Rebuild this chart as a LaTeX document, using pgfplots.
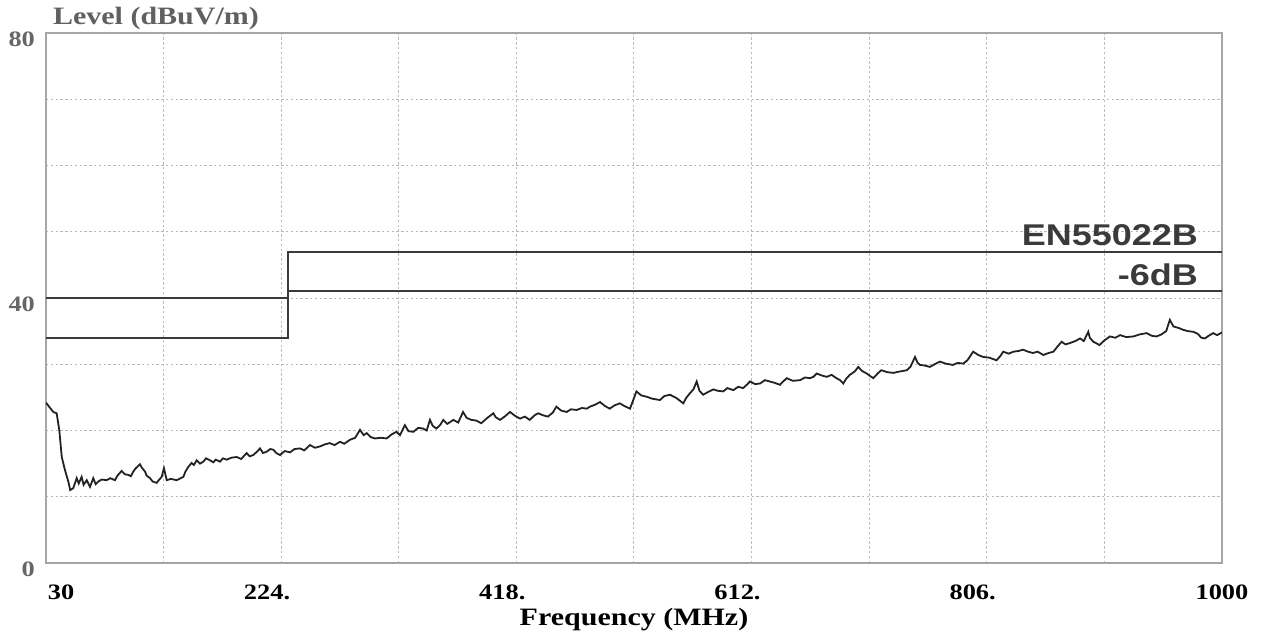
\documentclass[border=0pt]{standalone}
\usepackage{fontspec}
\setmainfont{Liberation Serif}
\newfontfamily\labfont[FakeStretch=1.2]{Liberation Serif}
\newfontfamily\limfont[FakeStretch=1.2]{Liberation Sans}
\usepackage{pgfplots}
\pgfplotsset{compat=1.18}

\definecolor{trace}{HTML}{222222}
\definecolor{limit}{HTML}{3A3A3A}
\definecolor{gridc}{HTML}{BBBBBB}

\begin{document}
\begin{tikzpicture}
\useasboundingbox (-23pt,-35.5pt) rectangle (612.5pt,281.5pt);
\begin{axis}[
    scale only axis, width=588pt, height=265pt,
    xmin=30, xmax=1000, ymin=0, ymax=80,
    xtick={30,127,224,321,418,515,612,709,806,903,1000},
    xticklabels={\rlap{\hspace{1pt}30}\hspace{9pt},,\hspace{9pt}\llap{224.},,\hspace{9pt}\llap{418.},,\hspace{9pt}\llap{612.},,\hspace{9pt}\llap{806.},,1000},
    ytick={0,10,...,80},
    yticklabels={0,,,,40,,,,80},
    major tick length=0pt,
    grid=major,
    major grid style={gridc, dash pattern=on 1.2pt off 1.2pt, line width=0.5pt},
    axis line style={gray!70, line width=0.6pt},
    tick label style={font=\labfont\bfseries\fontsize{11}{13}\selectfont},
    yticklabel style={text=gray!80!black, anchor=east, xshift=-2pt, yshift=-3pt},
    xticklabel style={anchor=north, yshift=-7.5pt},
    xlabel={Frequency (MHz)},
    xlabel style={at={(axis description cs:0.5,0)}, anchor=base, yshift=-31pt,
        font=\labfont\bfseries\fontsize{12.5}{14}\selectfont},
    ylabel={Level (dBuV/m)},
    ylabel style={rotate=-90, at={(axis description cs:0,1)}, anchor=base west,
        xshift=0pt, yshift=4.5pt, text=gray!75!black,
        font=\labfont\bfseries\fontsize{12.5}{14}\selectfont},
]
% limit lines
\addplot[limit, line width=1pt] coordinates {(30,40) (230,40) (230,47) (1000,47)};
\addplot[limit, line width=1pt] coordinates {(30,34) (230,34) (230,41) (1000,41)};

% measured trace
\addplot[trace, line width=0.9pt] coordinates {
(30,24.2) (33,23.5) (36,22.8) (38.8,22.6) (41,20) (43,16) (45.7,14) (48.4,12.3)
(50,11.0) (52.5,11.3) (55.3,12.8) (57,12.0) (59.4,13.0) (61,11.8) (63.6,12.5)
(66.3,11.5) (69,12.8) (71,11.9) (73.1,12.3) (76,12.6) (80,12.5) (83,12.8)
(86.9,12.5) (89,13.2) (92.4,13.9) (95,13.4) (97.9,13.3) (100,13.1) (102,13.8)
(104,14.3) (107.5,14.9) (109,14.4) (111.7,13.8) (113,13.2) (115.8,12.8)
(118,12.3) (121.3,12.1) (123,12.5) (125.4,13.0) (127.3,14.3) (129.6,12.5)
(133,12.7) (137.8,12.5) (140,12.7) (143.3,13.0) (145,13.8) (147.4,14.5)
(150,15.1) (152,14.8) (154.3,15.5) (157,15.0) (159.8,15.3) (162,15.8)
(165.3,15.5) (168,15.2) (170,15.6) (173.5,15.3) (176,15.8) (179,15.6)
(183,15.9) (187.3,16.0) (191,15.7) (195.5,16.6) (198,16.1) (201,16.3)
(204,16.8) (206.5,17.3) (209,16.6) (212,16.8) (215,17.2) (217.5,17.1)
(220,16.6) (223,16.3) (227,16.9) (231.3,16.7) (235,17.2) (239.5,17.3)
(243,17.0) (247.7,17.8) (252,17.4) (256,17.6) (260,17.9) (264,18.1)
(268,17.8) (272.5,18.3) (276,18.0) (280.7,18.6) (285,18.9) (289,20.1)
(292,19.3) (294.5,19.6) (298,19.0) (301.4,18.8) (306,18.9) (311,18.8)
(315,19.4) (319,19.8) (322,19.3) (326,20.8) (329,19.9) (333,19.8) (337,20.4)
(341,20.3) (344,20.0) (346.7,21.6) (349,20.7) (352,20.3) (355,20.8)
(357.7,21.6) (361,21.0) (366,21.6) (370,21.2) (374,22.8) (377,21.9)
(381,21.6) (385,21.5) (389,21.1) (394,21.9) (399,22.6) (401,22.0)
(404.5,21.6) (409,22.2) (412.7,22.8) (417,22.2) (421,21.8) (425,22.1)
(429,21.6) (433,22.3) (436,22.6) (440,22.3) (444,22.1) (448,22.7) (451,23.6)
(455,23.0) (459.5,22.8) (463,23.2) (467.7,23.1) (472,23.4) (476,23.3)
(478.7,23.6) (483,23.9) (487,24.3) (491,23.7) (495,23.3) (499,23.8)
(503.4,24.1) (507,23.7) (511.7,23.3) (514,24.4) (517,25.9) (521,25.3)
(525.5,25.1) (530,24.8) (536.4,24.6) (540,25.2) (544.7,25.4) (550,24.9)
(555.7,24.1) (558,24.9) (561,25.6) (564,26.2) (566.7,27.4) (569,26.0)
(572,25.4) (576,25.8) (580.4,26.2) (584,26.0) (588.6,25.9) (592,26.4)
(597,26.1) (601,26.6) (605,26.4) (608,26.9) (610.7,27.4) (615,27.0)
(619,27.1) (623,27.6) (627,27.4) (631,27.2) (635.4,26.9) (638,27.4)
(641,27.9) (646,27.5) (652,27.6) (656,28.0) (660,27.9) (663,28.1)
(665.7,28.6) (670,28.3) (674,28.1) (678,28.4) (682,27.9) (685,27.6)
(687.6,27.1) (690,27.8) (693,28.4) (697,28.9) (700,29.6) (703,29.0)
(707,28.6) (710,28.2) (712.4,27.9) (716,28.6) (719,29.1) (724,28.8)
(729,28.7) (734,28.9) (740,29.1) (743,29.6) (746.8,31.1) (749,30.2)
(751,29.9) (755,29.8) (759,29.6) (763,30.0) (767.4,30.4) (772,30.1)
(778,29.9) (782,30.2) (786.6,30.1) (790,30.6) (794.8,31.9) (799,31.4)
(803,31.1) (808,31.0) (814,30.6) (817,31.2) (819.6,31.9) (824,31.6)
(828,31.9) (832,32.0) (836,32.2) (840,31.9) (844,31.7) (848,31.9)
(852.6,31.4) (857,31.7) (861,31.9) (864,32.6) (867.7,33.4) (871,33.0)
(874.6,33.2) (879,33.5) (883,33.9) (886,33.5) (889.7,34.9) (891,34.0)
(893.8,33.4) (896,33.2) (899,32.9) (903,33.6) (907.6,34.2) (912,34.0)
(916,34.4) (921,34.1) (927,34.2) (932,34.5) (937.9,34.7) (942,34.3)
(946,34.2) (950,34.5) (954,35.0) (957,36.7) (960,35.7) (964,35.5)
(968,35.2) (972,35.0) (976.4,34.9) (980,34.6) (983,34.0) (986,33.9)
(989,34.3) (992.8,34.7) (996,34.4) (1000,34.8)
};

\node[anchor=base east, xshift=-8.5pt, yshift=3pt, text=limit,
      font=\limfont\bfseries\fontsize{15}{18}\selectfont] at (axis cs:1000,47) {EN55022B};
\node[anchor=base east, xshift=-8.5pt, yshift=3pt, text=limit,
      font=\limfont\bfseries\fontsize{15}{18}\selectfont] at (axis cs:1000,41) {-6dB};
\end{axis}
\end{tikzpicture}
\end{document}
